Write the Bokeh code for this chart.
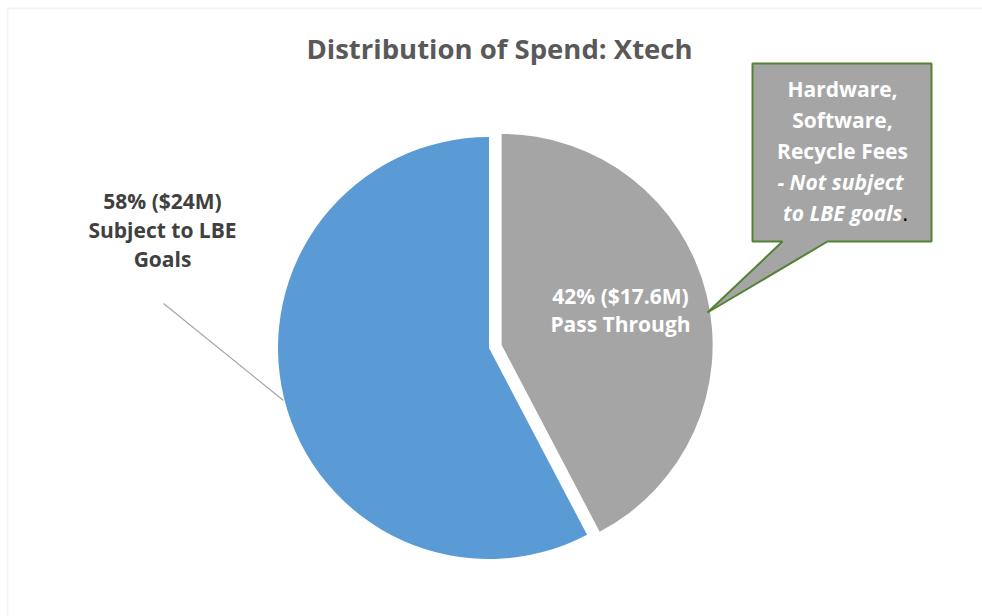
import math
from bokeh.plotting import figure
from bokeh.models import Range1d, BoxAnnotation
from bokeh.core.properties import value
from bokeh.embed import file_html
from bokeh.resources import INLINE

# ---- data ----
categories = ["Pass Through", "Subject to LBE Goals"]
category_lines = [["Pass Through"], ["Subject to LBE", "Goals"]]
values = [17.6, 24.0]          # $M
colors = ["#a5a5a5", "#5b9bd5"]
explode = [13, 0]
title_text = "Distribution of Spend: Xtech"
callout_plain = ["Hardware,", "Software,", "Recycle Fees"]
callout_italic = ["- Not subject", "to LBE goals"]

W, H = 982, 616
FONT = "Open Sans"
LAB_SIZE = "21px"


def Y(y):
    return H - y


p = figure(width=W, height=H, x_range=Range1d(0, W), y_range=Range1d(0, H),
           output_backend="svg", toolbar_location=None, min_border=0)
p.axis.visible = False
p.grid.visible = False
p.outline_line_color = None
p.background_fill_color = "white"
p.border_fill_color = "white"

# chart area border
p.add_layout(BoxAnnotation(left=7, right=W + 10, top=Y(8), bottom=-10,
                           fill_alpha=0, line_color="#d9d9d9", line_width=2))

# ---- pie ----
CX, CY, R = 488.5, Y(347.5), 211
total = sum(values)
xs, ys, starts, ends = [], [], [], []
cum = 0.0
for v, e in zip(values, explode):
    a0 = cum
    a1 = cum + v / total * 2 * math.pi
    cum = a1
    s = math.pi / 2 - a0
    t = math.pi / 2 - a1
    m = (s + t) / 2
    starts.append(s)
    ends.append(t)
    xs.append(CX + e * math.cos(m))
    ys.append(CY + e * math.sin(m))

p.wedge(x=xs, y=ys, radius=R, start_angle=starts, end_angle=ends,
        direction="clock", fill_color=colors, line_color=None)

labels = [f"{round(100 * v / total)}% (${v:g}M)" for v in values]

# leader line for blue label
p.line(x=[163, 283], y=[Y(303), Y(400)], line_color="#a6a6a6", line_width=1.2)

# data labels (x, first line centre y, spacing, colour)
lab_pos = [(620, 295, 28, "white"), (162, 200, 29, "#404040")]
for lab, lines, (lx, ly, sp, col) in zip(labels, category_lines, lab_pos):
    all_lines = [lab] + lines
    p.text(x=[lx] * len(all_lines), y=[Y(ly + i * sp) for i in range(len(all_lines))],
           text=all_lines, text_font=value(FONT), text_font_style="bold",
           text_font_size=value(LAB_SIZE), text_align="center",
           text_baseline="middle", text_color=col)

# title
p.text(x=[499], y=[Y(48)], text=[title_text], text_font=value(FONT),
       text_font_style="bold", text_font_size=value("27.5px"), text_align="center",
       text_baseline="middle", text_color="#595959")

# callout
cx_ = [752, 931, 931, 827, 707, 782, 752]
cy_ = [Y(v) for v in [63, 63, 241, 241, 312, 241, 241]]
p.patch(x=cx_, y=cy_, fill_color="#a5a5a5", line_color="#548235", line_width=2)

p.text(x=[842] * 3, y=[Y(88), Y(119), Y(150)], text=callout_plain,
       text_font=value(FONT), text_font_style="bold", text_font_size=value(LAB_SIZE),
       text_align="center", text_baseline="middle", text_color="white")
p.text(x=[840], y=[Y(181)], text=[callout_italic[0]],
       text_font=value(FONT), text_font_style="bold italic", text_font_size=value(LAB_SIZE),
       text_align="center", text_baseline="middle", text_color="white")
p.text(x=[902], y=[Y(212)], text=[callout_italic[1]],
       text_font=value(FONT), text_font_style="bold italic", text_font_size=value(LAB_SIZE),
       text_align="right", text_baseline="middle", text_color="white")
p.text(x=[902], y=[Y(212)], text=["."], text_font=value(FONT),
       text_font_style="normal", text_font_size=value(LAB_SIZE), text_align="left",
       text_baseline="middle", text_color="black")

open("out.html", "w").write(file_html(p, INLINE))
